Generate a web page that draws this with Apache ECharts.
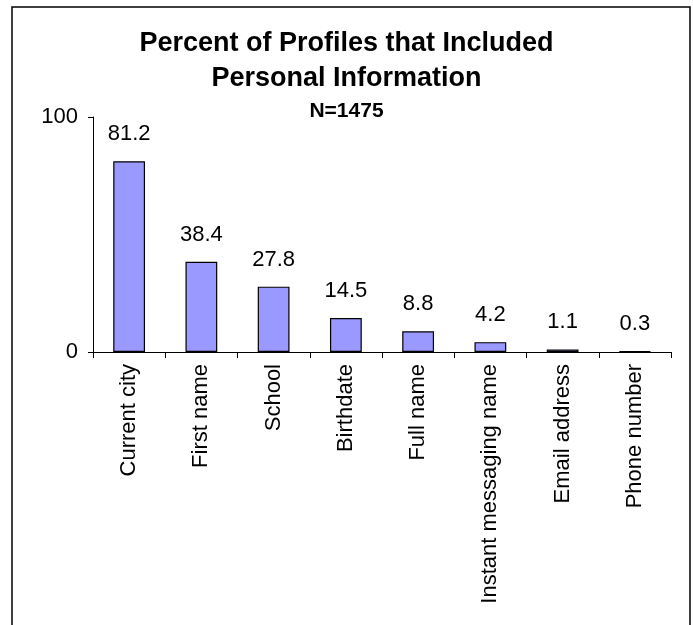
<!DOCTYPE html>
<html>
<head>
<meta charset="utf-8">
<script src="https://cdn.jsdelivr.net/npm/echarts@6/dist/echarts.min.js"></script>
<style>
html,body{margin:0;padding:0;background:#fff;}
#chart{width:693px;height:625px;}
</style>
</head>
<body>
<div id="chart"></div>
<script>
var categories = ["Current city","First name","School","Birthdate","Full name","Instant messaging name","Email address","Phone number"];
var percents = [81.2, 38.4, 27.8, 14.5, 8.8, 4.2, 1.1, 0.3];
var yTicks = [0, 100];

var FONT = "'Liberation Sans', Arial, sans-serif";
var chart = echarts.init(document.getElementById('chart'), null, {renderer:'canvas'});
chart.setOption({
  animation:false,
  backgroundColor:'#ffffff',
  graphic:[{
    type:'rect', silent:true, z:-1,
    shape:{x:12, y:7, width:678, height:650},
    style:{fill:'none', stroke:'#000', lineWidth:1.5}
  }],
  title:[{
    text:'Percent of Profiles that Included\nPersonal Information',
    left:'center', top:26, padding:[0,0,0,13],
    textStyle:{fontFamily:FONT, fontSize:27, fontWeight:'bold', color:'#000', lineHeight:35}
  },{
    text:'N=1475',
    left:'center', top:101, padding:[0,0,0,13],
    textStyle:{fontFamily:FONT, fontSize:21, fontWeight:'bold', color:'#000', lineHeight:21}
  }],
  grid:{left:93, right:22, top:117, bottom:273, containLabel:false},
  xAxis:{
    type:'category', data:categories,
    axisLine:{lineStyle:{color:'#000', width:1}},
    axisTick:{show:true, length:6, alignWithLabel:false, lineStyle:{color:'#000'}},
    axisLabel:{rotate:90, margin:12, interval:0, fontFamily:FONT, fontSize:22, color:'#000'},
    splitLine:{show:false}
  },
  yAxis:{
    type:'value', min:yTicks[0], max:yTicks[1], interval:yTicks[1]-yTicks[0],
    axisLine:{show:true, lineStyle:{color:'#000', width:1}},
    axisTick:{show:true, length:5, lineStyle:{color:'#000'}},
    axisLabel:{margin:15, fontFamily:FONT, fontSize:22, color:'#000'},
    splitLine:{show:false}
  },
  series:[{
    type:'bar', data:percents, barWidth:'44%',
    itemStyle:{color:'#9999FF', borderColor:'#000', borderWidth:1.2},
    label:{show:true, position:'top', distance:16, fontFamily:FONT, fontSize:22, color:'#000'}
  }]
});
</script>
</body>
</html>
